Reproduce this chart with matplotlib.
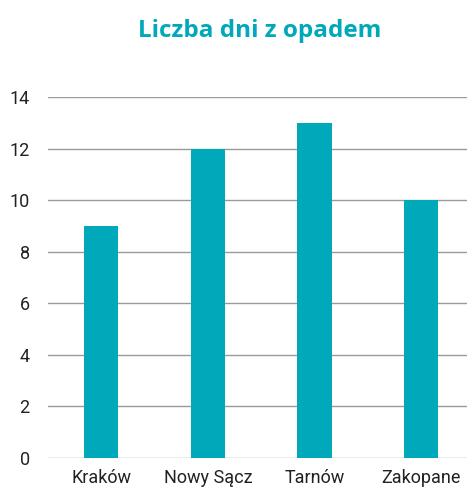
import matplotlib.pyplot as plt

# --- data ---
cities = ["Kraków", "Nowy Sącz", "Tarnów", "Zakopane"]
days = [9, 12, 13, 10]
yticks = [0, 2, 4, 6, 8, 10, 12, 14]

teal = "#00a9b9"

fig = plt.figure(figsize=(4.67, 4.94), dpi=100)
# axes runs a bit past the right edge, like the original (gridlines are clipped)
ax = fig.add_axes([47.7 / 467, 36 / 494, 427 / 467, 361 / 494])

ax.bar(range(len(cities)), days, width=0.32, color=teal, zorder=3)

ax.set_xlim(-0.5, len(cities) - 0.5)
ax.set_ylim(0, 14)
ax.set_yticks(yticks)
ax.set_xticks(range(len(cities)))
ax.set_xticklabels(cities, fontsize=13, family="Roboto", color="#222222")
ax.tick_params(axis="y", labelsize=13, length=0, pad=13, labelcolor="#222222")
ax.tick_params(axis="x", length=0, pad=8)
for lab in ax.get_yticklabels():
    lab.set_family("Roboto")

ax.grid(axis="y", color="#9a9a9a", linewidth=1, zorder=0)
for s in ax.spines.values():
    s.set_visible(False)

fig.text(0.557, 0.938, "Liczba dni z opadem", ha="center", va="center",
         fontsize=17.5, fontweight="bold", family="Open Sans", color=teal)

fig.savefig("out.png", dpi=100)
